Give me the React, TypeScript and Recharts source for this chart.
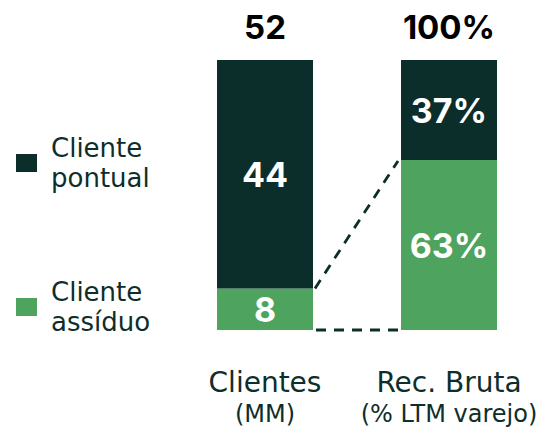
import React from 'react';
import { BarChart, Bar, XAxis, YAxis, LabelList } from 'recharts';

const categories = ['Clientes', 'Rec. Bruta'];
const subtitles = ['(MM)', '(% LTM varejo)'];
const assiduo = [8, 63];
const pontual = [44, 37];
const units = ['', '%'];
const seriesNames = [['Cliente', 'pontual'], ['Cliente', 'assíduo']];

const DARK = '#0c2e2b';
const GREEN = '#4ea35e';
const TEXT = '#0d2e2b';

const W = 543;
const H = 429;
const MARGIN = { top: 60, right: 2, bottom: 0, left: 173 };
const XAXIS_H = 99;
const BAND = (W - MARGIN.left - MARGIN.right) / categories.length;
const NUM_FONT = 'Inter, Roboto, sans-serif';
const TXT_FONT = '"DejaVu Sans", sans-serif';

const data = categories.map((c, i) => ({ cat: c, assiduo: assiduo[i], pontual: pontual[i] }));

const AssiduoShape = (props: any) => {
  const { x, y, width, height, index } = props;
  const rect = <rect x={x} y={y} width={width} height={height} fill={GREEN} />;
  if (index !== 0) return rect;
  const frac0 = assiduo[0] / (assiduo[0] + pontual[0]);
  const full = height / frac0;
  const bottom = y + height;
  const frac1 = assiduo[1] / (assiduo[1] + pontual[1]);
  const rightY = bottom - full * frac1;
  return (
    <g>
      {rect}
      <line x1={x + width + 2} y1={y} x2={x + BAND - 3} y2={rightY + 1} stroke={DARK} strokeWidth={2.8} strokeDasharray="10 8" />
      <line x1={x + width + 3} y1={bottom} x2={x + BAND - 1} y2={bottom} stroke={DARK} strokeWidth={2.8} strokeDasharray="10 8" />
    </g>
  );
};

const innerLabel = (series: number[]) => (p: any) => {
  const { x, y, width, height, index } = p;
  const fs = 34;
  return (
    <text x={x + width / 2} y={y + height / 2 + 0.36 * fs + 1} textAnchor="middle" fill="#ffffff" fontFamily={NUM_FONT} fontWeight={700} fontSize={fs}>
      {series[index]}{units[index]}
    </text>
  );
};

const topLabel = (p: any) => {
  const { x, y, width, index } = p;
  return (
    <text x={x + width / 2} y={y - 21} textAnchor="middle" fill="#000000" fontFamily={NUM_FONT} fontWeight={700} fontSize={33}>
      {assiduo[index] + pontual[index]}{units[index]}
    </text>
  );
};

const CatTick = (p: any) => {
  const { x, y, payload } = p;
  const i = categories.indexOf(payload.value);
  return (
    <g>
      <text x={x} y={y + 62} textAnchor="middle" fill={TEXT} fontFamily={TXT_FONT} fontSize={28}>{payload.value}</text>
      <text x={x} y={y + 92} textAnchor="middle" fill={TEXT} fontFamily={TXT_FONT} fontSize={24}>{subtitles[i]}</text>
    </g>
  );
};

const legendColors = [DARK, GREEN];
const legendTops = [154, 298];

export default function App() {
  return (
    <div style={{ position: 'absolute', left: 0, top: 0, width: W, height: H, background: '#fff' }}>
      <BarChart width={W} height={H} data={data} margin={MARGIN} stackOffset="expand" barSize={96}>
        <XAxis dataKey="cat" height={XAXIS_H} axisLine={false} tickLine={false} tickSize={0} tickMargin={0} tick={<CatTick />} interval={0} />
        <YAxis hide domain={[0, 1]} />
        <Bar dataKey="assiduo" stackId="a" fill={GREEN} shape={<AssiduoShape />} isAnimationActive={false}>
          <LabelList dataKey="assiduo" content={innerLabel(assiduo)} />
        </Bar>
        <Bar dataKey="pontual" stackId="a" fill={DARK} isAnimationActive={false}>
          <LabelList dataKey="pontual" content={innerLabel(pontual)} />
          <LabelList dataKey="pontual" content={topLabel} />
        </Bar>
      </BarChart>
      <svg width={170} height={H} style={{ position: 'absolute', left: 0, top: 0 }}>
        {seriesNames.map((lines, i) => (
          <g key={i}>
            <rect x={16} y={legendTops[i]} width={21} height={18} fill={legendColors[i]} />
            <text x={51} y={legendTops[i] + 3} fill={TEXT} fontFamily={TXT_FONT} fontSize={26}>{lines[0]}</text>
            <text x={51} y={legendTops[i] + 33} fill={TEXT} fontFamily={TXT_FONT} fontSize={26}>{lines[1]}</text>
          </g>
        ))}
      </svg>
    </div>
  );
}
